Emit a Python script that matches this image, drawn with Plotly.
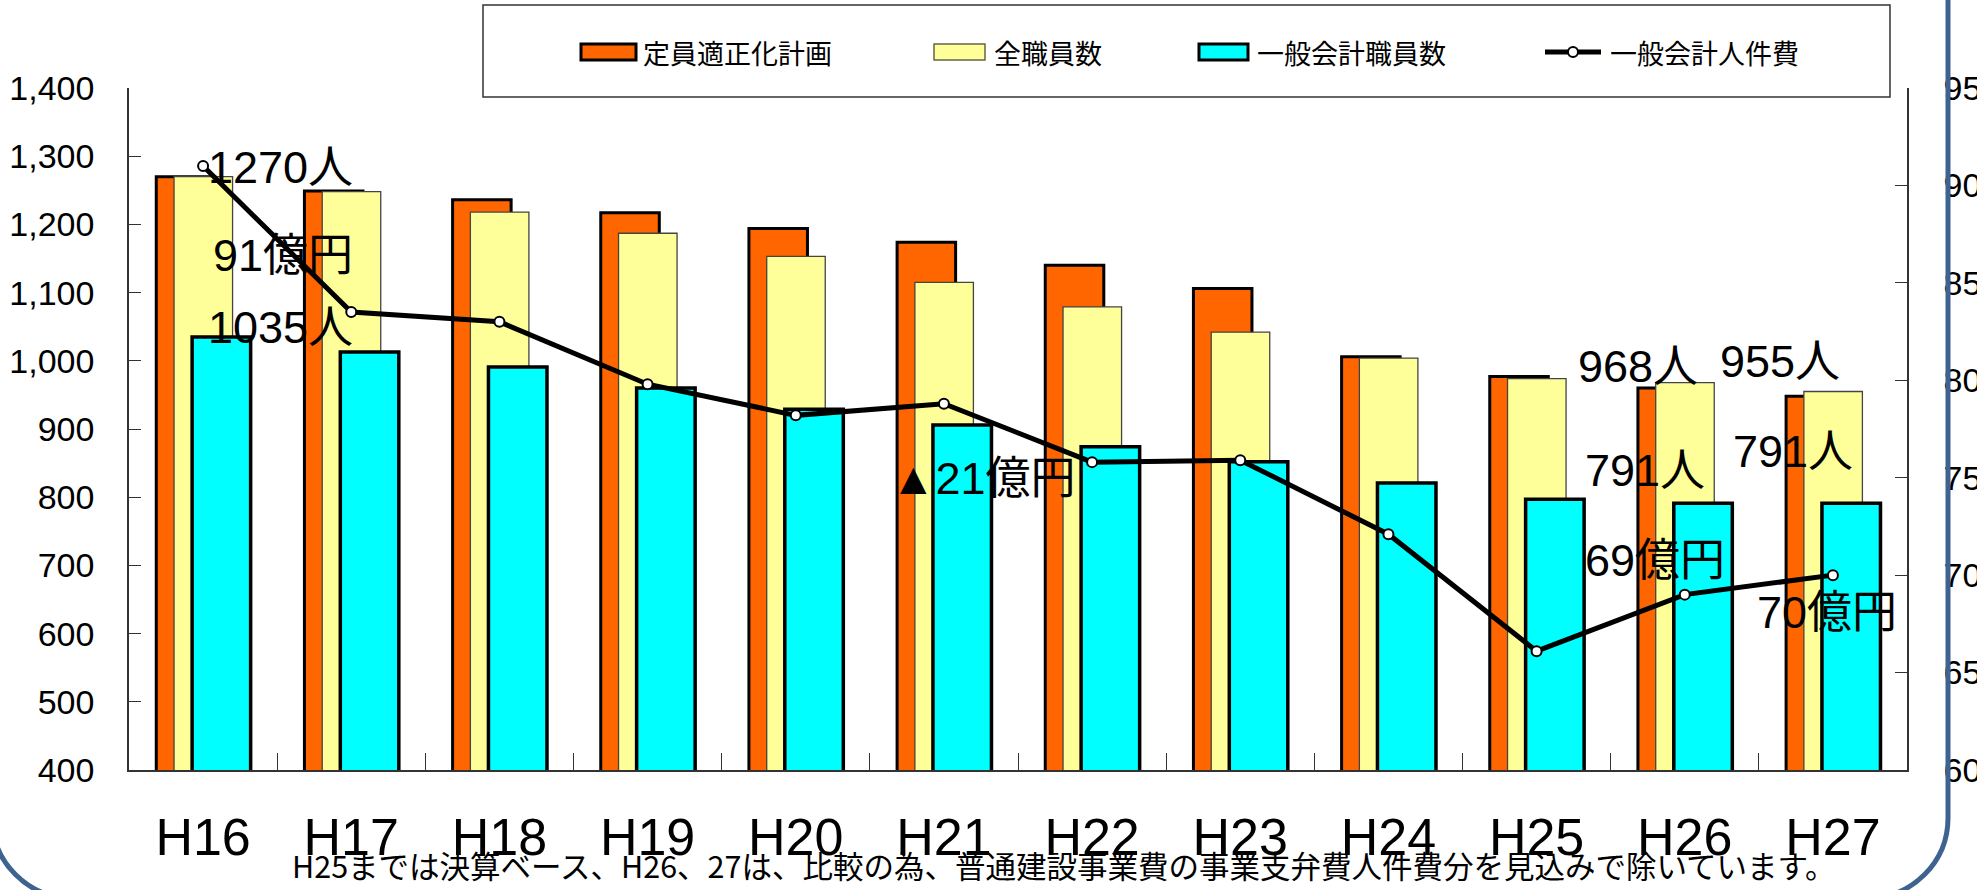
import plotly.graph_objects as go

# ---- data -------------------------------------------------------------
years = ["H16", "H17", "H18", "H19", "H20", "H21", "H22", "H23", "H24", "H25", "H26", "H27"]
plan_staff = [1270, 1249, 1236, 1217, 1194, 1174, 1140, 1106, 1006, 977, 960, 948]      # 定員適正化計画
total_staff = [1270, 1248, 1218, 1187, 1153, 1115, 1079, 1042, 1004, 974, 968, 955]     # 全職員数
general_staff = [1035, 1013, 991, 960, 929, 906, 874, 852, 821, 797, 791, 791]          # 一般会計職員数
personnel_cost = [91, 83.5, 83.0, 79.8, 78.2, 78.8, 75.8, 75.9, 72.1, 66.1, 69, 70]     # 一般会計人件費（億円）

series_names = ["定員適正化計画", "全職員数", "一般会計職員数", "一般会計人件費"]
note_text = "H25までは決算ベース、H26、27は、比較の為、普通建設事業費の事業支弁費人件費分を見込みで除いています。"

# ---- canvas geometry ----------------------------------------------------
W, H = 1977, 890
ML, MR, MT, MB = 129, 70, 88, 120
PW = W - ML - MR
PH = H - MT - MB


def px(x):
    return (x - ML) / PW


def py(y):
    return (H - MB - y) / PH


ORANGE = "#FF6600"
YELLOW = "#FFFF99"
CYAN = "#00FFFF"
BORDER_BLUE = "#3E6391"
NUM_FONT = "Arial, Liberation Sans, Noto Sans CJK JP"
JP_FONT = "Noto Sans CJK JP"

fig = go.Figure()

bar_w = 0.395
fig.add_trace(go.Bar(
    x=years, y=plan_staff, name=series_names[0], width=bar_w, offset=-0.316,
    marker=dict(color=ORANGE, line=dict(color="black", width=3)),
))
fig.add_trace(go.Bar(
    x=years, y=total_staff, name=series_names[1], width=bar_w, offset=-0.196,
    marker=dict(color=YELLOW, line=dict(color="#444444", width=1.3)),
))
fig.add_trace(go.Bar(
    x=years, y=general_staff, name=series_names[2], width=bar_w, offset=-0.074,
    marker=dict(color=CYAN, line=dict(color="black", width=3.5)),
))
fig.add_trace(go.Scatter(
    x=years, y=personnel_cost, name=series_names[3], yaxis="y2",
    mode="lines+markers",
    line=dict(color="black", width=5),
    marker=dict(size=10, color="white", line=dict(color="black", width=2)),
))

# ---- value callouts -----------------------------------------------------
callouts = [
    (f"{total_staff[0]}人", 206, 167),
    (f"{personnel_cost[0]:g}億円", 211, 255),
    (f"{general_staff[0]}人", 206, 327),
    (f"▲{personnel_cost[0] - personnel_cost[-1]:g}億円", 889, 479),
    (f"{total_staff[10]}人", 1576, 366),
    (f"{total_staff[11]}人", 1718, 361),
    (f"{general_staff[10]}人", 1583, 471),
    (f"{general_staff[11]}人", 1731, 451),
    (f"{personnel_cost[10]:g}億円", 1583, 560),
    (f"{personnel_cost[11]:g}億円", 1755, 612),
]
annotations = []
for text, lx, cy in callouts:
    annotations.append(dict(
        text=text, x=px(lx), y=py(cy), xref="paper", yref="paper",
        xanchor="left", yanchor="middle", showarrow=False,
        font=dict(family=NUM_FONT, size=45, color="black"),
    ))

# ---- legend box (drawn by hand for wide swatches) ----------------------
shapes = [
    dict(type="rect", xref="paper", yref="paper",
         x0=px(483), x1=px(1890), y0=py(5), y1=py(97),
         line=dict(color="#333333", width=1.5), fillcolor="white", layer="above"),
]
sw_y0, sw_y1 = py(44), py(60)
swatches = [
    (581, 636, ORANGE, "black", 3),
    (934, 985, YELLOW, "#666644", 1.5),
    (1199, 1248, CYAN, "black", 3),
]
for x0, x1, fc, lc, lw in swatches:
    shapes.append(dict(type="rect", xref="paper", yref="paper",
                       x0=px(x0), x1=px(x1), y0=sw_y0, y1=sw_y1,
                       fillcolor=fc, line=dict(color=lc, width=lw), layer="above"))
shapes.append(dict(type="line", xref="paper", yref="paper",
                   x0=px(1545), x1=px(1601), y0=py(52), y1=py(52),
                   line=dict(color="black", width=5), layer="above"))
shapes.append(dict(type="circle", xref="paper", yref="paper",
                   x0=px(1568), x1=px(1578), y0=py(47), y1=py(57),
                   fillcolor="white", line=dict(color="black", width=2), layer="above"))

for name, lx in zip(series_names, [641, 992, 1255, 1608]):
    annotations.append(dict(
        text=name, x=px(lx), y=py(52), xref="paper", yref="paper",
        xanchor="left", yanchor="middle", showarrow=False,
        font=dict(family=JP_FONT, size=27, color="black"),
    ))

# ---- footnote -----------------------------------------------------------
annotations.append(dict(
    text=note_text, x=px(290), y=py(889), xref="paper", yref="paper",
    xanchor="left", yanchor="bottom", showarrow=False,
    font=dict(family=JP_FONT, size=30.5, color="black"),
))

# ---- rounded page frame -------------------------------------------------
r = 80
k = 0.5523 * r
right, left, bottom = 1948, -8, 898
pts = [
    ("M", [(right, -20)]),
    ("L", [(right, bottom - r)]),
    ("C", [(right, bottom - r + k), (right - r + k, bottom), (right - r, bottom)]),
    ("L", [(left + r, bottom)]),
    ("C", [(left + r - k, bottom), (left, bottom - r + k), (left, bottom - r)]),
    ("L", [(left, -20)]),
]
path = " ".join(cmd + " ".join(f"{px(x):.5f},{py(y):.5f}" for x, y in p) for cmd, p in pts)
shapes.append(dict(type="path", xref="paper", yref="paper", path=path,
                   line=dict(color=BORDER_BLUE, width=5), layer="above"))

axis_common = dict(
    showline=True, linecolor="#333333", linewidth=1.5,
    ticks="inside", ticklen=12, tickwidth=1.3, tickcolor="#333333",
    showgrid=False, zeroline=False, automargin=False,
    tickfont=dict(family=NUM_FONT, size=34, color="black"),
)

fig.update_layout(
    width=W, height=H,
    margin=dict(l=ML, r=MR, t=MT, b=MB, pad=0, autoexpand=False),
    paper_bgcolor="white", plot_bgcolor="white",
    barmode="overlay",
    showlegend=False,
    xaxis=dict(
        type="category", range=[-0.5, len(years) - 0.5],
        showline=True, linecolor="#333333", linewidth=2,
        ticks="inside", tickson="boundaries", ticklen=17, tickwidth=1.3, tickcolor="#333333",
        showgrid=False, zeroline=False, automargin=False,
        tickfont=dict(family=NUM_FONT, size=52, color="black"),
        ticklabelstandoff=21,
    ),
    yaxis=dict(range=[400, 1400], dtick=100, tickformat=",", ticklabelstandoff=26, **axis_common),
    yaxis2=dict(range=[60, 95], dtick=5, overlaying="y", side="right", ticklabelstandoff=28, **axis_common),
    annotations=annotations,
    shapes=shapes,
)

fig.write_html("out.html")
